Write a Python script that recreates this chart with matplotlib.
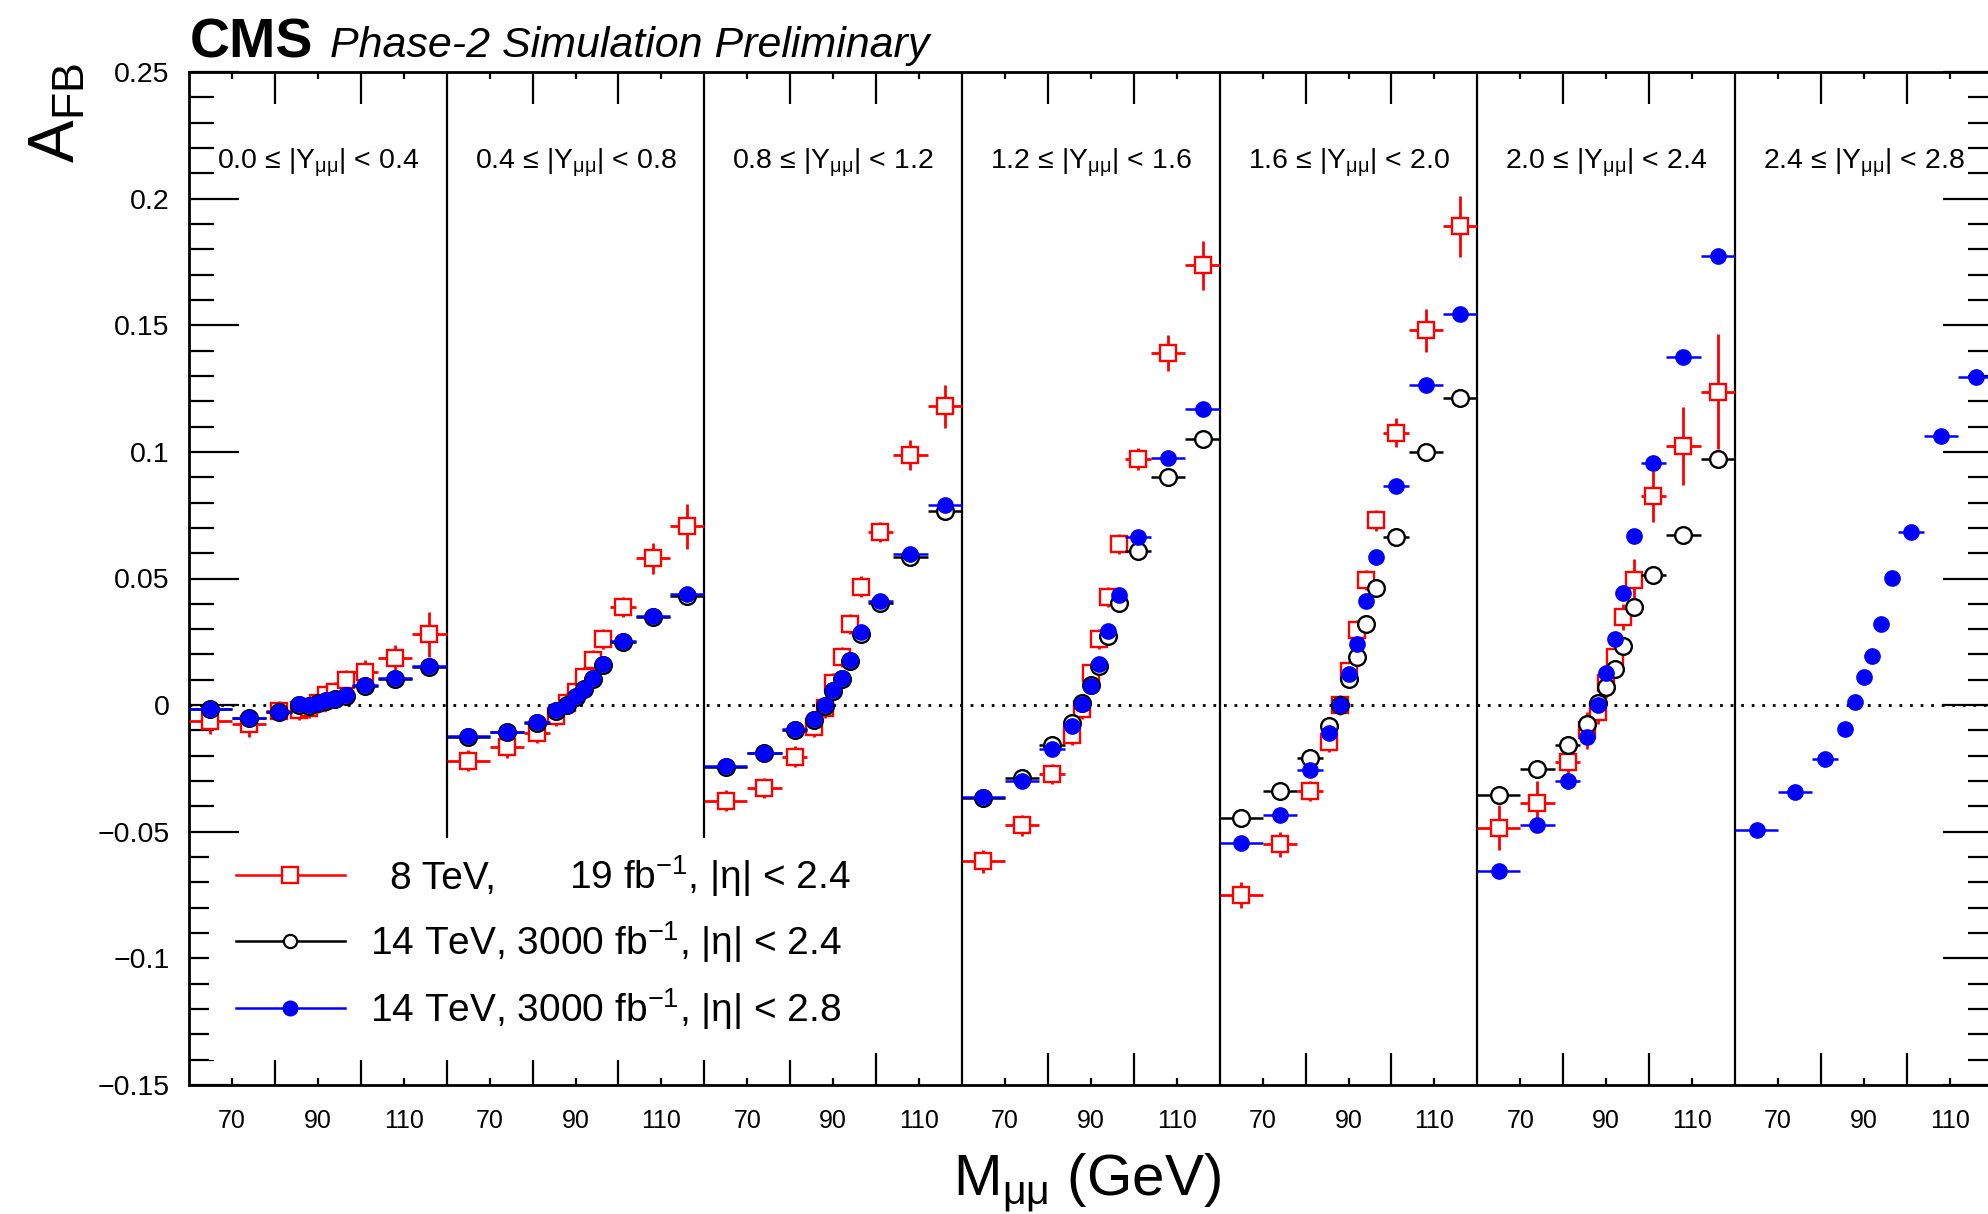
import numpy as np
import matplotlib
matplotlib.use("Agg")
import matplotlib.pyplot as plt
from matplotlib.patches import Rectangle
from matplotlib.ticker import FixedLocator, FixedFormatter, NullFormatter

plt.rcParams["font.family"] = ["Liberation Sans", "DejaVu Sans"]
plt.rcParams["mathtext.fontset"] = "custom"
plt.rcParams["mathtext.rm"] = "Liberation Sans"
plt.rcParams["mathtext.it"] = "Liberation Sans:italic"
plt.rcParams["mathtext.bf"] = "Liberation Sans:bold"

# dimuon mass bins (GeV), same in every rapidity panel
mass_edges = np.array([60, 70, 78, 84, 87, 89, 91, 93, 95, 98, 104, 112, 120])
rap_labels = ["0.0", "0.4", "0.8", "1.2", "1.6", "2.0", "2.4", "2.8"]
mass_ticklabels = ["70", "90", "110"]

# 8 TeV, 19 fb-1, |eta| < 2.4 (6 rapidity bins)
afb_8tev = [
    [-0.0064, -0.0075, -0.0022, -0.0018, -0.0012, 0.0010, 0.0040, 0.0050, 0.0098, 0.0129, 0.0186, 0.0279],
    [-0.0219, -0.0167, -0.0110, -0.0044, 0.0008, 0.0053, 0.0110, 0.0178, 0.0262, 0.0387, 0.0579, 0.0706],
    [-0.0377, -0.0328, -0.0203, -0.0087, -0.0010, 0.0087, 0.0190, 0.0319, 0.0468, 0.0684, 0.0987, 0.1180],
    [-0.0616, -0.0475, -0.0271, -0.0117, -0.0014, 0.0126, 0.0262, 0.0428, 0.0636, 0.0972, 0.1390, 0.1736],
    [-0.0750, -0.0550, -0.0340, -0.0145, 0.0000, 0.0135, 0.0295, 0.0495, 0.0730, 0.1075, 0.1480, 0.1890],
    [-0.0484, -0.0385, -0.0224, -0.0100, -0.0026, 0.0087, 0.0190, 0.0348, 0.0496, 0.0824, 0.1024, 0.1237],
]
afb_8tev_err = [
    [0.005, 0.005, 0.004, 0.004, 0.004, 0.004, 0.004, 0.004, 0.004, 0.005, 0.005, 0.009],
    [0.004, 0.004, 0.004, 0.004, 0.004, 0.004, 0.004, 0.004, 0.004, 0.004, 0.006, 0.009],
    [0.004, 0.004, 0.004, 0.004, 0.004, 0.004, 0.004, 0.004, 0.004, 0.004, 0.006, 0.0085],
    [0.0045, 0.004, 0.004, 0.004, 0.004, 0.004, 0.004, 0.004, 0.004, 0.0045, 0.007, 0.0096],
    [0.005, 0.005, 0.004, 0.004, 0.004, 0.004, 0.004, 0.004, 0.0042, 0.0057, 0.0086, 0.012],
    [0.0088, 0.0085, 0.0062, 0.0074, 0.005, 0.0057, 0.005, 0.005, 0.008, 0.0102, 0.0153, 0.0227],
]
# 14 TeV, 3000 fb-1, |eta| < 2.4 (6 rapidity bins)
afb_14tev_eta24 = [
    [-0.0017, -0.0051, -0.0028, 0.0002, -0.0002, 0.0008, 0.0017, 0.0024, 0.0038, 0.0076, 0.0104, 0.0152],
    [-0.0125, -0.0107, -0.0069, -0.0023, 0.0000, 0.0032, 0.0062, 0.0103, 0.0158, 0.0249, 0.0347, 0.0432],
    [-0.0243, -0.0191, -0.0097, -0.0058, -0.0002, 0.0056, 0.0104, 0.0175, 0.0281, 0.0403, 0.0586, 0.0767],
    [-0.0365, -0.0287, -0.0158, -0.0071, 0.0008, 0.0080, 0.0155, 0.0273, 0.0405, 0.0609, 0.0899, 0.1051],
    [-0.0445, -0.0339, -0.0207, -0.0082, 0.0000, 0.0103, 0.0190, 0.0319, 0.0461, 0.0665, 0.0999, 0.1214],
    [-0.0355, -0.0253, -0.0158, -0.0076, 0.0008, 0.0072, 0.0144, 0.0235, 0.0387, 0.0514, 0.0673, 0.0972],
]
# 14 TeV, 3000 fb-1, |eta| < 2.8 (7 rapidity bins)
afb_14tev_eta28 = [
    [-0.0015, -0.0049, -0.0026, 0.0004, 0.0000, 0.0010, 0.0019, 0.0026, 0.0040, 0.0078, 0.0106, 0.0155],
    [-0.0123, -0.0105, -0.0067, -0.0021, 0.0002, 0.0035, 0.0065, 0.0106, 0.0162, 0.0253, 0.0352, 0.0438],
    [-0.0241, -0.0189, -0.0094, -0.0055, 0.0001, 0.0060, 0.0108, 0.0180, 0.0287, 0.0410, 0.0598, 0.0791],
    [-0.0362, -0.0298, -0.0174, -0.0083, 0.0004, 0.0076, 0.0162, 0.0292, 0.0435, 0.0665, 0.0976, 0.1171],
    [-0.0543, -0.0434, -0.0257, -0.0110, 0.0000, 0.0121, 0.0242, 0.0412, 0.0584, 0.0867, 0.1266, 0.1543],
    [-0.0654, -0.0475, -0.0298, -0.0124, 0.0000, 0.0126, 0.0262, 0.0443, 0.0666, 0.0956, 0.1376, 0.1774],
    [-0.0495, -0.0343, -0.0212, -0.0094, 0.0013, 0.0110, 0.0194, 0.0319, 0.0502, 0.0683, 0.1062, 0.1296],
]

n_panels = len(rap_labels) - 1
span = mass_edges[-1] - mass_edges[0]
centers = 0.5 * (mass_edges[:-1] + mass_edges[1:])
xerr = np.vstack([centers - mass_edges[:-1], mass_edges[1:] - centers])


def panel_x(k):
    # position on the concatenated axis: each panel covers 60 GeV
    return k * span + (centers - mass_edges[0])


W, H = 1988, 1214
fig = plt.figure(figsize=(W / 100, H / 100), dpi=100)
ax = fig.add_axes([189 / W, 129 / H, 1803.7 / W, 1013 / H])
ax.set_xlim(0, n_panels * span)
ax.set_ylim(-0.15, 0.25)

for k in range(n_panels):
    x = panel_x(k)
    if k < len(afb_8tev):
        ax.errorbar(x, afb_8tev[k], xerr=xerr, yerr=afb_8tev_err[k], fmt="s",
                    ms=11.5, mfc="white", mec="#ff0000", mew=1.7,
                    ecolor="#ff0000", elinewidth=2.0, capsize=0, zorder=3)
    if k < len(afb_14tev_eta24):
        ax.errorbar(x, afb_14tev_eta24[k], xerr=xerr, fmt="o",
                    ms=12, mfc="white", mec="black", mew=1.7,
                    ecolor="black", elinewidth=1.8, capsize=0, zorder=4)
    ax.errorbar(x, afb_14tev_eta28[k], xerr=xerr, fmt="o",
                ms=11, mfc="#0000ff", mec="#0000ff", mew=1,
                ecolor="#0000ff", elinewidth=1.8, capsize=0, zorder=5)

# panel separators and zero line
for k in range(1, n_panels):
    ax.axvline(k * span, color="black", lw=1.6, zorder=2)
ax.axhline(0, color="black", lw=2.0, ls=(0, (1, 2.8)), zorder=1)

# rapidity labels
for k in range(n_panels):
    ax.text(k * span + span / 2, 0.9047,
            rap_labels[k] + " ≤ |Y$_{\\mathrm{μμ}}$| < " + rap_labels[k + 1],
            transform=ax.get_xaxis_transform(), ha="center", va="baseline",
            fontsize=20.5, zorder=6)

# axes styling
for s in ax.spines.values():
    s.set_linewidth(2.0)
ax.tick_params(which="both", direction="in", top=True, right=True, width=1.6)
ax.tick_params(axis="y", which="major", length=36, pad=14, labelsize=20.5)
ax.tick_params(axis="y", which="minor", length=18)
ax.tick_params(axis="x", which="major", length=23)
ax.tick_params(axis="x", which="minor", length=5, pad=17, labelsize=18)

yt = np.arange(-0.15, 0.2501, 0.05)
ax.yaxis.set_major_locator(FixedLocator(yt))
ax.yaxis.set_major_formatter(FixedFormatter(
    ["\u22120.15", "\u22120.1", "\u22120.05", "0", "0.05", "0.1", "0.15", "0.2", "0.25"]))
ax.yaxis.set_minor_locator(FixedLocator(np.arange(-0.15, 0.2501, 0.01)))

xmaj = [k * span + d for k in range(n_panels) for d in (20, 40)]
xmin = [k * span + d for k in range(n_panels) for d in (10, 30, 50)]
ax.xaxis.set_major_locator(FixedLocator(xmaj))
ax.xaxis.set_major_formatter(NullFormatter())
ax.xaxis.set_minor_locator(FixedLocator(xmin))
ax.xaxis.set_minor_formatter(FixedFormatter(mass_ticklabels * n_panels))

# legend box (drawn by hand to match the layout)
tr = ax.transAxes
ax.add_patch(Rectangle((0.0111, 0.0247), 0.361, 0.219, transform=tr,
                       facecolor="white", edgecolor="none", zorder=10))
rows = [0.2073, 0.1422, 0.0760]
styles = [
    dict(color="#ff0000", marker="s", ms=11.5, mfc="white", mec="#ff0000", mew=1.7, lw=1.8),
    dict(color="black", marker="o", ms=9.5, mfc="white", mec="black", mew=1.6, lw=1.8),
    dict(color="#0000ff", marker="o", ms=10.5, mfc="#0000ff", mec="#0000ff", lw=1.8),
]
for yr, st in zip(rows, styles):
    ax.plot([0.0261, 0.0865], [yr, yr], transform=tr, clip_on=False, zorder=11,
            color=st["color"], lw=st["lw"])
    ax.plot([0.056], [yr], transform=tr, clip_on=False, zorder=12, ls="none",
            marker=st["marker"], ms=st["ms"], mfc=st["mfc"], mec=st["mec"],
            mew=st.get("mew", 1))
dy = 14 / 1013
ax.text(0.1117, rows[0] - dy, "8 TeV,", transform=tr, fontsize=28, va="baseline", zorder=12)
ax.text(0.2107, rows[0] - dy, "19 fb$^{-1}$, |η| < 2.4", transform=tr, fontsize=28,
        va="baseline", zorder=12)
ax.text(0.1003, rows[1] - dy, "14 TeV, 3000 fb$^{-1}$, |η| < 2.4", transform=tr,
        fontsize=28, va="baseline", zorder=12)
ax.text(0.1003, rows[2] - dy, "14 TeV, 3000 fb$^{-1}$, |η| < 2.8", transform=tr,
        fontsize=28, va="baseline", zorder=12)

# titles
fig.text(190 / W, 1 - 57 / H, "CMS", fontsize=40, weight="bold", va="baseline")
fig.text(330 / W, 1 - 57 / H, "Phase-2 Simulation Preliminary", fontsize=31,
         style="italic", va="baseline")
fig.text(1087 / W, 19 / H, "M$_{\\mathrm{μμ}}$ (GeV)", fontsize=42, ha="center",
         va="baseline")
fig.text(58 / W, 1 - 63 / H, "A$_{\\mathrm{FB}}$", fontsize=46, rotation=90,
         ha="center", va="top")

fig.savefig("out.png", dpi=100)
